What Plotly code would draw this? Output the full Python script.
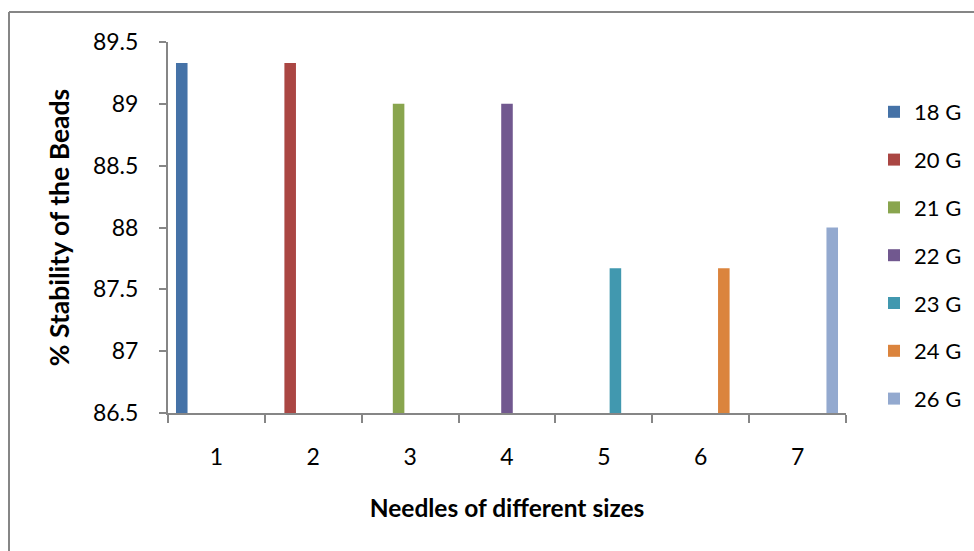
import plotly.graph_objects as go

categories = ["1", "2", "3", "4", "5", "6", "7"]
series_names = ["18 G", "20 G", "21 G", "22 G", "23 G", "24 G", "26 G"]
stability = [89.33, 89.33, 89.0, 89.0, 87.67, 87.67, 88.0]
colors = ["#4572A7", "#AA4643", "#89A54E", "#71588F", "#4198AF", "#DB843D", "#93A9CF"]
y_ticks = [86.5, 87, 87.5, 88, 88.5, 89, 89.5]

FONT = "Lato"
W, H = 974, 551
L, R, T, B = 168, 128, 42, 138
pw, ph = W - L - R, H - T - B

fig = go.Figure()
for i, name in enumerate(series_names):
    yvals = [stability[i] if j == i else None for j in range(len(categories))]
    fig.add_trace(go.Bar(
        x=categories, y=yvals, name=name,
        marker=dict(color=colors[i], line=dict(width=0)),
        legendgroup=name, offsetgroup=name,
    ))

fig.update_layout(
    width=W, height=H,
    margin=dict(l=L, r=R, t=T, b=B, autoexpand=False),
    paper_bgcolor="white", plot_bgcolor="white",
    barmode="group", bargap=0.165, bargroupgap=0,
    font=dict(family=FONT, color="black"),
    showlegend=True,
    legend=dict(
        xref="container", yref="container",
        x=874 / W, xanchor="left",
        y=1 - 91 / H, yanchor="top",
        maxheight=480,
        font=dict(size=22, family=FONT),
        tracegroupgap=16.2,
        bgcolor="rgba(0,0,0,0)",
    ),
    xaxis=dict(
        type="category", categoryorder="array", categoryarray=categories,
        showline=True, linecolor="#868686", linewidth=2,
        ticks="outside", ticklen=8, tickwidth=2, tickcolor="#868686",
        tickson="boundaries", showgrid=False,
        tickfont=dict(size=23, family=FONT),
        ticklabelstandoff=22,
        title=dict(text="<b>Needles of different sizes</b>", font=dict(size=24.5, family=FONT), standoff=31),
    ),
    yaxis=dict(
        range=[86.5, 89.5], tickvals=y_ticks, ticktext=[f"{v:g}" for v in y_ticks],
        showline=True, linecolor="#868686", linewidth=2,
        ticks="outside", ticklen=7, tickwidth=2, tickcolor="#868686",
        showgrid=False, zeroline=False,
        tickfont=dict(size=23, family=FONT),
        ticklabelstandoff=16,
        title=dict(text="<b>% Stability of the Beads</b>", font=dict(size=26.5, family=FONT), standoff=16),
    ),
    shapes=[
        dict(type="line", xref="paper", yref="paper",
             x0=(9 - L) / pw, x1=(W + 20 - L) / pw, y0=(H - B - 12) / ph, y1=(H - B - 12) / ph,
             line=dict(color="#868686", width=2)),
        dict(type="line", xref="paper", yref="paper",
             x0=(9 - L) / pw, x1=(9 - L) / pw, y0=(H - B - 12) / ph, y1=-(B + 20) / ph,
             line=dict(color="#868686", width=2)),
    ],
)

fig.write_html("out.html")
